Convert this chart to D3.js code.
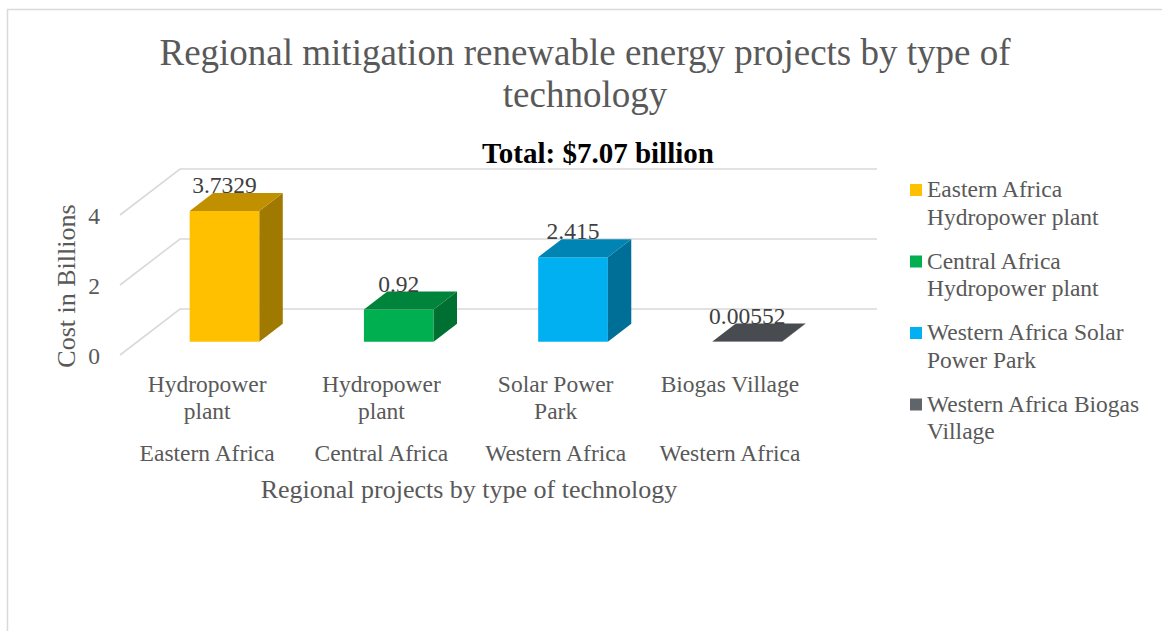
<!DOCTYPE html>
<html>
<head>
<meta charset="utf-8">
<script src="https://cdn.jsdelivr.net/npm/d3@7"></script>
<style>
  html, body { margin: 0; padding: 0; background: #ffffff; }
  svg { display: block; }
  text { font-family: "Liberation Serif", "Times New Roman", serif; }
</style>
</head>
<body>
<svg id="chart" width="1162" height="631"></svg>
<script>
// Project data
const technologies = ["Hydropower plant", "Hydropower plant", "Solar Power Park", "Biogas Village"];
const regions = ["Eastern Africa", "Central Africa", "Western Africa", "Western Africa"];
const costs = [3.7329, 0.92, 2.415, 0.00552];
const yTicks = [0, 2, 4];
const seriesColors = ["#FFC000", "#00B050", "#00B0F0", "#60646B"];

const titleLines = ["Regional mitigation renewable energy projects by type of", "technology"];
const subtitle = "Total: $7.07 billion";
const xTitle = "Regional projects by type of technology";
const yTitle = "Cost in Billions";

const svg = d3.select("#chart");

// Chart frame
svg.append("rect")
  .attr("x", 7.5).attr("y", 9.5)
  .attr("width", 1300).attr("height", 800)
  .attr("fill", "#ffffff")
  .attr("stroke", "#d9d9d9").attr("stroke-width", 1.5);

// Plot geometry: front plane of the floor, and the depth offset to the back wall
const plotLeft = 120, plotRight = 817;
const depthX = 60, depthY = 46;
const barFront = 0.29, barBack = 0.68;

const x = d3.scaleBand()
  .domain(d3.range(costs.length))
  .range([plotLeft, plotRight])
  .paddingInner(0.6)
  .paddingOuter(0.3);

const y = d3.scaleLinear().domain([0, 4]).range([355, 215]);

// point in the oblique projection: horizontal position, value, depth (0 front .. 1 back wall)
const P = (px, v, d) => [px + d * depthX, y(v) - d * depthY];
const line = d3.line();

// Side wall and back wall gridlines
svg.append("g").selectAll("path")
  .data(yTicks)
  .join("path")
  .attr("d", t => line([P(plotLeft, t, 0), P(plotLeft, t, 1), P(plotRight, t, 1)]))
  .attr("fill", "none")
  .attr("stroke", "#d9d9d9")
  .attr("stroke-width", 1.6);

// Value axis labels
svg.append("g").selectAll("text")
  .data(yTicks)
  .join("text")
  .attr("x", 100)
  .attr("y", t => y(t) + 1)
  .attr("text-anchor", "end")
  .attr("dominant-baseline", "central")
  .attr("font-size", 23.5)
  .attr("fill", "#595959")
  .text(t => t);

// 3D columns
const bars = svg.append("g").selectAll("g")
  .data(costs.map((v, i) => ({ v, i })))
  .join("g");

const face = (d, pts) => line(pts) + "Z";

bars.append("path") // front face
  .attr("d", d => {
    const x0 = x(d.i), x1 = x(d.i) + x.bandwidth();
    return face(d, [P(x0, 0, barFront), P(x1, 0, barFront), P(x1, d.v, barFront), P(x0, d.v, barFront)]);
  })
  .attr("fill", d => seriesColors[d.i]);

bars.append("path") // right side face
  .attr("d", d => {
    const x1 = x(d.i) + x.bandwidth();
    return face(d, [P(x1, 0, barFront), P(x1, 0, barBack), P(x1, d.v, barBack), P(x1, d.v, barFront)]);
  })
  .attr("fill", d => d3.color(seriesColors[d.i]).darker(1.3));

bars.append("path") // top face
  .attr("d", d => {
    const x0 = x(d.i), x1 = x(d.i) + x.bandwidth();
    return face(d, [P(x0, d.v, barFront), P(x1, d.v, barFront), P(x1, d.v, barBack), P(x0, d.v, barBack)]);
  })
  .attr("fill", d => d3.color(seriesColors[d.i]).darker(0.8));

// Data labels above each column
bars.append("text")
  .attr("x", d => P(x(d.i) + x.bandwidth() / 2, d.v, barFront)[0])
  .attr("y", d => P(0, d.v, barBack)[1])
  .attr("text-anchor", "middle")
  .attr("font-size", 23.5)
  .attr("fill", "#404040")
  .text(d => String(d.v));

// word wrapping for text into lines no wider than maxWidth
function wrapLines(str, size, maxWidth) {
  const probe = svg.append("text").attr("font-size", size);
  const words = str.split(" ");
  const lines = [];
  let cur = "";
  words.forEach(w => {
    const tryLine = cur ? cur + " " + w : w;
    probe.text(tryLine);
    if (cur && probe.node().getComputedTextLength() > maxWidth) {
      lines.push(cur);
      cur = w;
    } else {
      cur = tryLine;
    }
  });
  if (cur) lines.push(cur);
  probe.remove();
  return lines;
}

// Category labels: technology (wrapped) and region
const catG = svg.append("g");
technologies.forEach((t, i) => {
  const cx = x(i) + x.bandwidth() / 2;
  wrapLines(t, 23.5, 158).forEach((ln, k) => {
    catG.append("text")
      .attr("x", cx).attr("y", 392 + k * 27)
      .attr("text-anchor", "middle")
      .attr("font-size", 23.5)
      .attr("fill", "#595959")
      .text(ln);
  });
  catG.append("text")
    .attr("x", cx).attr("y", 461)
    .attr("text-anchor", "middle")
    .attr("font-size", 23.5)
    .attr("fill", "#595959")
    .text(regions[i]);
});

// Axis titles
svg.append("text")
  .attr("x", 469).attr("y", 498)
  .attr("text-anchor", "middle")
  .attr("font-size", 26)
  .attr("fill", "#595959")
  .text(xTitle);

svg.append("text")
  .attr("transform", "translate(75,286) rotate(-90)")
  .attr("text-anchor", "middle")
  .attr("font-size", 26)
  .attr("fill", "#595959")
  .text(yTitle);

// Chart title and total
titleLines.forEach((t, k) => {
  svg.append("text")
    .attr("x", 585).attr("y", 65 + k * 42)
    .attr("text-anchor", "middle")
    .attr("font-size", 37)
    .attr("fill", "#595959")
    .text(t);
});

svg.append("text")
  .attr("x", 598).attr("y", 163)
  .attr("text-anchor", "middle")
  .attr("font-size", 29)
  .attr("font-weight", "bold")
  .attr("fill", "#000000")
  .text(subtitle);

// Legend
const legend = svg.append("g");
regions.forEach((r, i) => {
  const top = 197 + i * 71.5;
  legend.append("rect")
    .attr("x", 910).attr("y", top - 13)
    .attr("width", 12).attr("height", 12)
    .attr("fill", seriesColors[i]);
  wrapLines(r + " " + technologies[i], 23.5, 225).forEach((ln, k) => {
    legend.append("text")
      .attr("x", 927).attr("y", top + k * 27.5)
      .attr("font-size", 23.5)
      .attr("fill", "#595959")
      .text(ln);
  });
});
</script>
</body>
</html>
